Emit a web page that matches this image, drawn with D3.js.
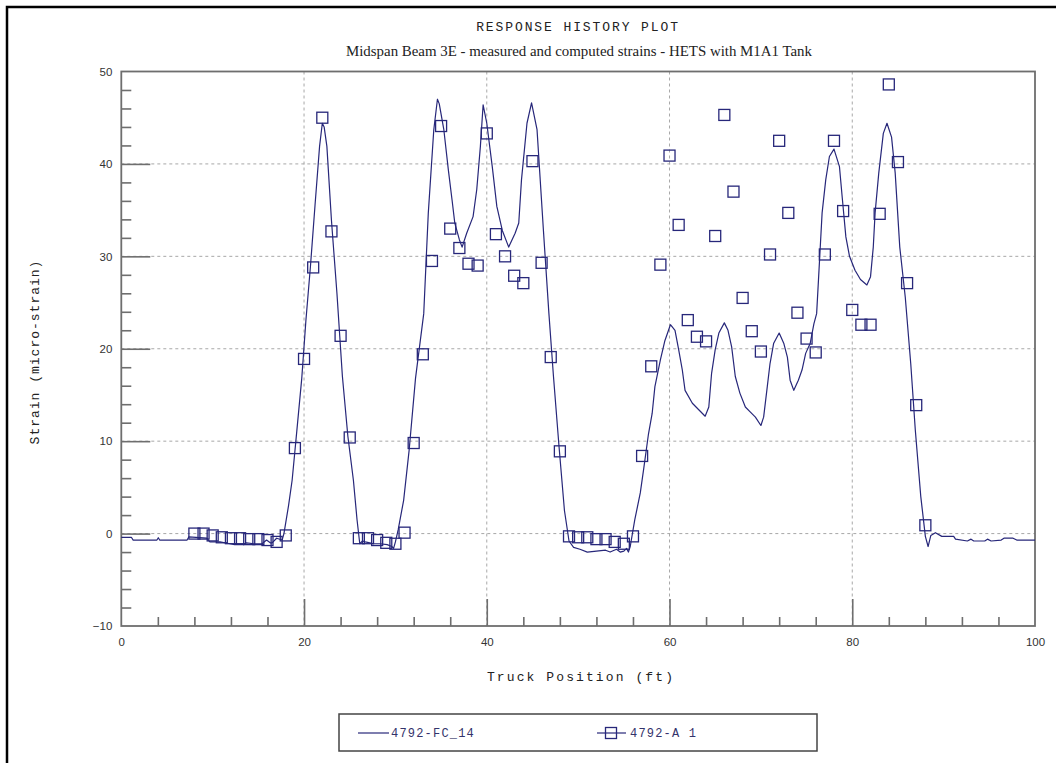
<!DOCTYPE html>
<html>
<head>
<meta charset="utf-8">
<script src="https://cdn.jsdelivr.net/npm/d3@7"></script>
<style>
  html, body { margin: 0; padding: 0; background: #fff; }
  svg { display: block; }
</style>
</head>
<body>
<svg id="chart" width="1056" height="763"></svg>
<script>
// Computed response (4792-FC_14): truck position (ft) and strain (micro-strain)
const computedPos = [
  0, 1.1, 1.3, 3.9, 4.05, 4.2, 7.2, 7.4, 9.35, 9.7, 10.8, 11.9, 12.4, 13.4, 13.7, 14.5, 15.4, 15.9, 16.3, 16.5,
  17.0, 17.6, 17.8, 18.3, 18.7, 19.2, 19.75, 20.2, 20.7, 21.2, 21.7, 22.0, 22.2, 22.5, 23.0, 23.6, 24.2, 24.8,
  25.4, 25.8, 26.1, 26.4, 26.7, 27.2, 27.6, 28.3, 29.1, 29.6, 29.8, 30.0, 30.3, 30.9, 31.5, 32.2, 33.1, 33.6,
  34.2, 34.6, 34.8, 35.3, 35.8, 36.2, 36.5, 37.0, 37.3, 37.8, 38.5, 38.9, 39.3, 39.6, 40.0, 40.6, 41.1, 41.7,
  42.4, 43.1, 43.5, 43.8, 44.4, 44.9, 45.5, 46.2, 46.8, 47.3, 47.9, 48.5, 49.0, 49.5, 50.2, 51.0, 52.0, 53.0,
  53.5, 54.2, 54.6, 55.0, 55.3, 55.5, 55.7, 56.2, 56.8, 57.2, 57.7, 58.1, 58.4, 59.0, 59.5, 60.1, 60.6, 61.0,
  61.4, 61.7, 62.5, 63.2, 63.9, 64.3, 64.6, 65.0, 65.4, 66.0, 66.4, 66.8, 67.2, 67.7, 68.3, 68.8, 69.4, 70.0,
  70.3, 70.7, 71.0, 71.4, 72.0, 72.5, 72.9, 73.2, 73.6, 74.1, 74.5, 74.9, 75.4, 75.8, 76.1, 76.3, 76.7, 77.1,
  77.5, 78.0, 78.6, 78.9, 79.3, 79.7, 80.3, 80.9, 81.6, 82.0, 82.3, 82.5, 82.9, 83.4, 83.8, 84.3, 84.7, 85.2,
  85.8, 86.4, 86.9, 87.5, 88.0, 88.3, 88.6, 89.1, 89.8, 91.1, 91.3, 92.6, 93.0, 93.3, 94.5, 94.8, 95.2, 96.3,
  96.6, 97.6, 98.0, 100
];
const computedStrain = [
  -0.4, -0.4, -0.7, -0.7, -0.45, -0.7, -0.7, -0.35, -0.5, -0.9, -0.9, -1.1, -1.2, -1.2, -1.0, -1.1, -1.1, -0.7, -1.0, -1.0,
  -0.5, -0.7, 0.0, 3.0, 5.8, 11.0, 16.8, 23.0, 28.9, 35.5, 41.9, 44.4, 44.0, 41.9, 33.9, 26.0, 17.0, 10.5,
  5.8, 1.5, -1.1, -0.8, -0.9, -1.0, -1.1, -1.1, -1.2, -1.4, -1.6, -0.9, 0.4, 3.6, 9.0, 16.8, 23.8, 34.7,
  43.7, 47.0, 46.5, 43.7, 39.3, 36.1, 33.6, 31.8, 31.0, 32.5, 34.3, 37.2, 41.9, 46.4, 44.4, 39.7, 35.4, 32.8,
  31.0, 32.5, 33.6, 38.3, 44.4, 46.6, 43.7, 32.8, 23.8, 17.0, 9.5, 2.5, -0.8, -1.5, -1.7, -2.0, -1.9, -1.8,
  -2.0, -1.7, -2.0, -1.9, -1.6, -2.0, -1.4, 1.5, 4.4, 7.2, 10.8, 13.0, 15.9, 18.8, 20.9, 22.6, 22.0, 19.9,
  17.7, 15.5, 14.1, 13.4, 12.7, 13.7, 17.3, 19.9, 21.7, 22.8, 22.0, 20.2, 17.0, 15.2, 13.7, 13.2, 12.6, 11.7,
  12.6, 15.9, 18.4, 20.6, 21.7, 20.6, 19.1, 16.6, 15.5, 16.6, 17.7, 19.5, 20.6, 22.7, 23.8, 27.4, 34.7, 38.3,
  40.8, 41.6, 39.7, 36.4, 32.1, 30.0, 28.5, 27.5, 26.9, 27.8, 31.0, 34.7, 39.0, 43.3, 44.4, 42.9, 39.0, 31.0,
  25.6, 18.4, 11.2, 4.0, -0.3, -1.4, -0.2, 0.1, -0.3, -0.3, -0.6, -0.8, -0.6, -0.8, -0.8, -0.6, -0.8, -0.7,
  -0.5, -0.5, -0.7, -0.7
];

// Measured gauge readings (4792-A 1), one per foot of truck travel
const measuredPos = [
  8, 9, 10, 11, 12, 13, 14, 15, 16, 17, 18, 19, 20, 21, 22, 23, 24, 25, 26, 27, 28, 29, 30, 31,
  32, 33, 34, 35, 36, 37, 38, 39, 40, 41, 42, 43, 44, 45, 46, 47, 48, 49, 50, 51, 52, 53, 54, 55,
  56, 57, 58, 59, 60, 61, 62, 63, 64, 65, 66, 67, 68, 69, 70, 71, 72, 73, 74, 75, 76, 77, 78, 79,
  80, 81, 82, 83, 84, 85, 86, 87, 88
];
const measuredStrain = [
  0.0, 0.0, -0.2, -0.4, -0.5, -0.5, -0.6, -0.6, -0.7, -0.9, -0.2, 9.25, 18.9, 28.8, 45.0, 32.7, 21.4, 10.4,
  -0.5, -0.5, -0.7, -1.0, -1.1, 0.1, 9.8, 19.4, 29.5, 44.1, 33.0, 30.9, 29.2, 29.0, 43.3, 32.4, 30.0, 27.9,
  27.1, 40.3, 29.3, 19.1, 8.9, -0.3, -0.4, -0.4, -0.6, -0.6, -0.9, -1.1, -0.3, 8.4, 18.1, 29.1, 40.9, 33.4,
  23.1, 21.3, 20.8, 32.2, 45.3, 37.0, 25.5, 21.9, 19.7, 30.2, 42.5, 34.7, 23.9, 21.1, 19.6, 30.2, 42.5,
  34.9, 24.2, 22.6, 22.6, 34.6, 48.6, 40.2, 27.1, 13.9, 0.9
];

// Axis ticks
const xMajorTicks = [0, 20, 40, 60, 80, 100];
const xMinorTicks = [4, 8, 12, 16, 24, 28, 32, 36, 44, 48, 52, 56, 64, 68, 72, 76, 84, 88, 92, 96];
const yMajorTicks = [-10, 0, 10, 20, 30, 40, 50];
const yMinorTicks = [-8, -6, -4, -2, 2, 4, 6, 8, 12, 14, 16, 18, 22, 24, 26, 28, 32, 34, 36, 38, 42, 44, 46, 48];

const titleText = "RESPONSE HISTORY PLOT";
const subtitleText = "Midspan Beam 3E - measured and computed strains - HETS with M1A1 Tank";
const xTitle = "Truck Position (ft)";
const yTitle = "Strain (micro-strain)";
const seriesNames = ["4792-FC_14", "4792-A 1"];

const ink = "#27277a";
const mono = "'Liberation Mono', 'DejaVu Sans Mono', monospace";

const svg = d3.select("#chart");

// Page frame
svg.append("rect")
  .attr("x", 7).attr("y", 7).attr("width", 1060).attr("height", 770)
  .attr("fill", "none").attr("stroke", "#000").attr("stroke-width", 2.5);

const plot = { left: 121.3, right: 1035, top: 71.5, bottom: 626 };
const x = d3.scaleLinear().domain([0, 100]).range([plot.left, plot.right]);
const y = d3.scaleLinear().domain([-10, 50]).range([plot.bottom, plot.top]);

// Titles
svg.append("text")
  .attr("x", 578).attr("y", 31).attr("text-anchor", "middle")
  .style("font-family", mono).style("font-size", "13px").style("letter-spacing", "1.9px")
  .attr("fill", "#222").text(titleText);
svg.append("text")
  .attr("x", 579).attr("y", 56).attr("text-anchor", "middle")
  .style("font-family", "'Liberation Serif', 'Times New Roman', serif").style("font-size", "14.9px")
  .attr("fill", "#222").text(subtitleText);

// Dashed grid at interior major ticks
const grid = svg.append("g");
grid.selectAll("line.gx").data(xMajorTicks.filter(d => d > 0 && d < 100)).join("line")
  .attr("x1", d => x(d)).attr("x2", d => x(d)).attr("y1", plot.top).attr("y2", plot.bottom)
  .attr("stroke", "#a8a8a8").attr("stroke-width", 1).attr("stroke-dasharray", "3,3");
grid.selectAll("line.gy").data(yMajorTicks.filter(d => d > -10 && d < 50)).join("line")
  .attr("x1", plot.left).attr("x2", plot.right).attr("y1", d => y(d)).attr("y2", d => y(d))
  .attr("stroke", "#a8a8a8").attr("stroke-width", 1).attr("stroke-dasharray", "3,3");

// Axes: major ticks with labels, minor ticks inward
const axisColor = "#6e6e6e";
function styleAxis(g) {
  g.select(".domain").remove();
  g.selectAll(".tick line").attr("stroke", axisColor).attr("stroke-width", 1.6);
  g.selectAll(".tick text")
    .style("font-family", "'Liberation Sans', Arial, sans-serif").style("font-size", "11.5px")
    .attr("fill", "#333");
}
svg.append("g").attr("transform", `translate(0,${plot.bottom})`)
  .call(d3.axisBottom(x).tickValues(xMajorTicks.filter(d => d > 0 && d < 100)).tickSize(-27).tickFormat(""))
  .call(styleAxis);
svg.append("g").attr("transform", `translate(0,${plot.bottom})`)
  .call(d3.axisBottom(x).tickValues(xMinorTicks).tickSize(-9).tickFormat(""))
  .call(styleAxis);
svg.append("g").attr("transform", `translate(0,${plot.bottom})`)
  .call(d3.axisBottom(x).tickValues(xMajorTicks).tickSize(0).tickPadding(12).tickFormat(d3.format("d")))
  .call(styleAxis);

svg.append("g").attr("transform", `translate(${plot.left},0)`)
  .call(d3.axisLeft(y).tickValues(yMajorTicks.filter(d => d > -10 && d < 50)).tickSize(-29).tickFormat(""))
  .call(styleAxis);
svg.append("g").attr("transform", `translate(${plot.left},0)`)
  .call(d3.axisLeft(y).tickValues(yMinorTicks).tickSize(-10).tickFormat(""))
  .call(styleAxis);
svg.append("g").attr("transform", `translate(${plot.left},0)`)
  .call(d3.axisLeft(y).tickValues(yMajorTicks).tickSize(0).tickPadding(9).tickFormat(d3.format("d")))
  .call(styleAxis);

// Plot frame
svg.append("rect")
  .attr("x", plot.left).attr("y", plot.top)
  .attr("width", plot.right - plot.left).attr("height", plot.bottom - plot.top)
  .attr("fill", "none").attr("stroke", axisColor).attr("stroke-width", 1.8);

// Axis titles
svg.append("text")
  .attr("x", 581).attr("y", 681).attr("text-anchor", "middle")
  .style("font-family", mono).style("font-size", "13px").style("letter-spacing", "2.1px")
  .attr("fill", "#222").text(xTitle);
svg.append("text")
  .attr("transform", "translate(39,352) rotate(-90)").attr("text-anchor", "middle")
  .style("font-family", mono).style("font-size", "13px").style("letter-spacing", "1.0px")
  .attr("fill", "#222").text(yTitle);

// Computed strain curve
const computed = computedPos.map((p, i) => [p, computedStrain[i]]);
svg.append("path")
  .datum(computed)
  .attr("d", d3.line().x(d => x(d[0])).y(d => y(d[1])))
  .attr("fill", "none").attr("stroke", ink).attr("stroke-width", 1.2)
  .attr("stroke-linejoin", "round");

// Measured strain markers
const sq = 11;
svg.append("g").selectAll("rect")
  .data(measuredPos.map((p, i) => [p, measuredStrain[i]]))
  .join("rect")
  .attr("x", d => x(d[0]) - sq / 2).attr("y", d => y(d[1]) - sq / 2)
  .attr("width", sq).attr("height", sq)
  .attr("fill", "none").attr("stroke", ink).attr("stroke-width", 1.3);

// Legend
const leg = svg.append("g");
leg.append("rect").attr("x", 339).attr("y", 714).attr("width", 478).attr("height", 37)
  .attr("fill", "#fff").attr("stroke", "#444").attr("stroke-width", 1.5);
leg.append("line").attr("x1", 358).attr("x2", 389).attr("y1", 733).attr("y2", 733)
  .attr("stroke", ink).attr("stroke-width", 1.2);
leg.append("text").attr("x", 391).attr("y", 737)
  .style("font-family", mono).style("font-size", "12px").style("letter-spacing", "1.2px")
  .attr("fill", "#33336b").text(seriesNames[0]);
leg.append("line").attr("x1", 597).attr("x2", 626).attr("y1", 733).attr("y2", 733)
  .attr("stroke", ink).attr("stroke-width", 1.2);
leg.append("rect").attr("x", 611 - sq / 2).attr("y", 733 - sq / 2).attr("width", sq).attr("height", sq)
  .attr("fill", "none").attr("stroke", ink).attr("stroke-width", 1.3);
leg.append("text").attr("x", 630).attr("y", 737)
  .style("font-family", mono).style("font-size", "12px").style("letter-spacing", "1.2px")
  .attr("fill", "#33336b").text(seriesNames[1]);
</script>
</body>
</html>
